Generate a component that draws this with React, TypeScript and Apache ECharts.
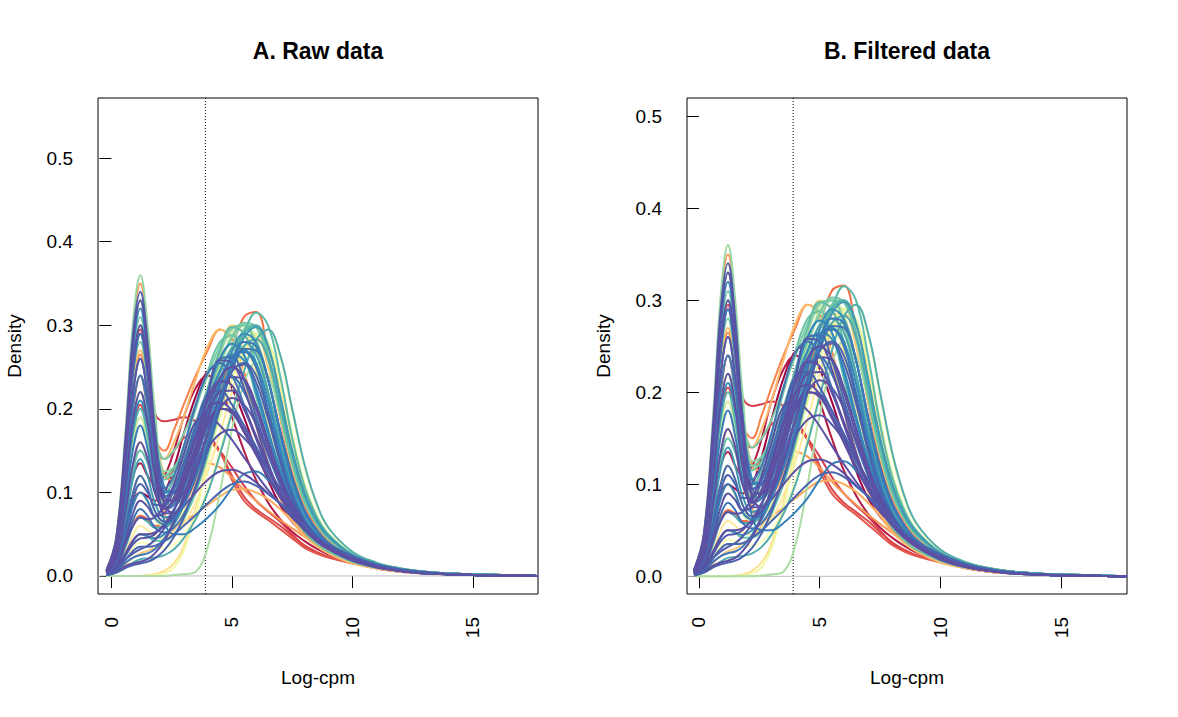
import React, { useEffect, useRef } from "react";
import * as echarts from "echarts";

// log-cpm grid at which each sample's density was read
const logCpm = [-0.2, 0.2, 0.6, 0.9, 1.2, 1.5, 1.8, 2.2, 2.6, 3.0, 3.5, 4.0, 4.5, 5.0, 5.5, 6.0, 6.5, 7.0, 7.5, 8.0, 8.5, 9.0, 10, 11, 12, 13, 14, 15, 17.7];

const xTicks = [0, 5, 10, 15];
const yTicks = [0, 0.1, 0.2, 0.3, 0.4, 0.5];
const cutoff = 3.9;
const panelTitles = ["A. Raw data", "B. Filtered data"];
const xLabel = "Log-cpm";
const yLabel = "Density";

// density curves, one per sample (drawing order)
const s01 = [0.003, 0.02, 0.06, 0.09, 0.1, 0.095, 0.09, 0.1, 0.13, 0.17, 0.215, 0.245, 0.25, 0.225, 0.19, 0.15, 0.115, 0.085, 0.065, 0.05, 0.038, 0.03, 0.018, 0.01, 0.006, 0.003, 0.002, 0.001, 0];
const s02 = [0.004, 0.025, 0.08, 0.12, 0.135, 0.12, 0.11, 0.12, 0.15, 0.19, 0.225, 0.24, 0.225, 0.19, 0.15, 0.115, 0.088, 0.068, 0.053, 0.042, 0.033, 0.026, 0.016, 0.009, 0.005, 0.003, 0.002, 0.001, 0];
const s03 = [0.006, 0.04, 0.15, 0.25, 0.295, 0.25, 0.195, 0.185, 0.187, 0.19, 0.185, 0.17, 0.15, 0.13, 0.108, 0.09, 0.077, 0.065, 0.05, 0.036, 0.028, 0.023, 0.016, 0.01, 0.006, 0.004, 0.002, 0.001, 0];
const s04 = [0.005, 0.03, 0.1, 0.17, 0.205, 0.18, 0.15, 0.14, 0.15, 0.165, 0.17, 0.165, 0.148, 0.12, 0.095, 0.08, 0.07, 0.06, 0.048, 0.037, 0.029, 0.023, 0.016, 0.01, 0.006, 0.004, 0.002, 0.001, 0];
const s05 = [0.005, 0.035, 0.12, 0.2, 0.24, 0.2, 0.15, 0.12, 0.125, 0.14, 0.155, 0.16, 0.148, 0.115, 0.09, 0.077, 0.067, 0.056, 0.045, 0.034, 0.027, 0.022, 0.015, 0.01, 0.006, 0.004, 0.002, 0.001, 0];
const s06 = [0.002, 0.014, 0.04, 0.062, 0.072, 0.068, 0.06, 0.06, 0.068, 0.085, 0.115, 0.16, 0.215, 0.27, 0.31, 0.316, 0.265, 0.19, 0.125, 0.085, 0.06, 0.042, 0.024, 0.014, 0.009, 0.005, 0.003, 0.002, 0];
const s07 = [0.005, 0.035, 0.135, 0.22, 0.265, 0.225, 0.165, 0.15, 0.175, 0.205, 0.24, 0.27, 0.295, 0.285, 0.245, 0.19, 0.135, 0.095, 0.068, 0.05, 0.037, 0.028, 0.016, 0.01, 0.006, 0.004, 0.002, 0.001, 0];
const s08 = [0.007, 0.045, 0.175, 0.295, 0.35, 0.29, 0.18, 0.12, 0.115, 0.12, 0.13, 0.135, 0.13, 0.118, 0.103, 0.09, 0.078, 0.067, 0.057, 0.047, 0.038, 0.03, 0.019, 0.011, 0.006, 0.004, 0.002, 0.001, 0];
const s09 = [0.007, 0.045, 0.165, 0.28, 0.33, 0.27, 0.165, 0.075, 0.06, 0.065, 0.075, 0.085, 0.095, 0.103, 0.104, 0.1, 0.092, 0.08, 0.066, 0.053, 0.042, 0.033, 0.02, 0.012, 0.007, 0.004, 0.002, 0.001, 0];
const s10 = [0.005, 0.035, 0.135, 0.23, 0.27, 0.23, 0.17, 0.14, 0.16, 0.19, 0.235, 0.275, 0.295, 0.28, 0.235, 0.18, 0.13, 0.092, 0.066, 0.048, 0.036, 0.027, 0.015, 0.009, 0.005, 0.003, 0.002, 0.001, 0];
const s11 = [0.001, 0.006, 0.015, 0.022, 0.027, 0.03, 0.034, 0.042, 0.055, 0.075, 0.11, 0.155, 0.205, 0.25, 0.285, 0.285, 0.25, 0.19, 0.13, 0.088, 0.062, 0.044, 0.024, 0.014, 0.008, 0.005, 0.003, 0.002, 0];
const s12 = [0.003, 0.02, 0.075, 0.13, 0.16, 0.14, 0.1, 0.08, 0.09, 0.11, 0.15, 0.2, 0.26, 0.3, 0.29, 0.245, 0.18, 0.125, 0.085, 0.058, 0.042, 0.031, 0.018, 0.011, 0.006, 0.004, 0.002, 0.001, 0];
const s13 = [0, 0, 0, 0, 0, 0.001, 0.002, 0.006, 0.015, 0.035, 0.08, 0.14, 0.2, 0.255, 0.29, 0.298, 0.265, 0.2, 0.14, 0.095, 0.066, 0.047, 0.025, 0.014, 0.008, 0.005, 0.003, 0.002, 0];
const s14 = [0.001, 0.009, 0.03, 0.05, 0.06, 0.055, 0.048, 0.045, 0.05, 0.062, 0.088, 0.125, 0.17, 0.22, 0.265, 0.29, 0.275, 0.225, 0.16, 0.105, 0.07, 0.049, 0.026, 0.015, 0.009, 0.005, 0.003, 0.002, 0];
const s15 = [0.004, 0.03, 0.11, 0.185, 0.22, 0.185, 0.13, 0.1, 0.105, 0.125, 0.16, 0.205, 0.25, 0.278, 0.275, 0.24, 0.185, 0.13, 0.088, 0.06, 0.043, 0.032, 0.018, 0.011, 0.006, 0.004, 0.002, 0.001, 0];
const s16 = [0.001, 0.006, 0.02, 0.033, 0.04, 0.038, 0.034, 0.033, 0.038, 0.05, 0.072, 0.105, 0.15, 0.2, 0.25, 0.285, 0.295, 0.26, 0.195, 0.13, 0.085, 0.056, 0.028, 0.016, 0.009, 0.005, 0.003, 0.002, 0];
const s17 = [0, 0, 0, 0, 0, 0, 0.001, 0.003, 0.01, 0.03, 0.075, 0.135, 0.195, 0.25, 0.285, 0.29, 0.26, 0.2, 0.14, 0.095, 0.065, 0.046, 0.025, 0.014, 0.008, 0.005, 0.003, 0.002, 0];
const s18 = [0.002, 0.015, 0.058, 0.1, 0.12, 0.105, 0.078, 0.062, 0.065, 0.078, 0.105, 0.145, 0.19, 0.235, 0.27, 0.29, 0.28, 0.235, 0.17, 0.112, 0.074, 0.05, 0.026, 0.015, 0.009, 0.005, 0.003, 0.002, 0];
const s19 = [0.004, 0.025, 0.095, 0.16, 0.19, 0.16, 0.115, 0.09, 0.095, 0.115, 0.155, 0.2, 0.25, 0.285, 0.3, 0.285, 0.235, 0.17, 0.115, 0.078, 0.055, 0.04, 0.022, 0.013, 0.007, 0.004, 0.002, 0.001, 0];
const s20 = [0.002, 0.013, 0.05, 0.085, 0.1, 0.088, 0.068, 0.06, 0.07, 0.095, 0.14, 0.19, 0.245, 0.29, 0.3, 0.27, 0.21, 0.15, 0.1, 0.068, 0.048, 0.035, 0.02, 0.012, 0.007, 0.004, 0.002, 0.001, 0];
const s21 = [0, 0, 0, 0, 0, 0, 0, 0, 0.001, 0.002, 0.005, 0.035, 0.1, 0.175, 0.23, 0.255, 0.24, 0.195, 0.14, 0.095, 0.066, 0.046, 0.025, 0.014, 0.008, 0.005, 0.003, 0.002, 0];
const s22 = [0.007, 0.047, 0.18, 0.305, 0.36, 0.3, 0.2, 0.125, 0.13, 0.15, 0.185, 0.225, 0.265, 0.295, 0.3, 0.275, 0.22, 0.155, 0.105, 0.07, 0.05, 0.036, 0.02, 0.012, 0.007, 0.004, 0.002, 0.001, 0];
const s23 = [0.007, 0.043, 0.165, 0.28, 0.33, 0.275, 0.185, 0.12, 0.12, 0.135, 0.165, 0.2, 0.24, 0.275, 0.3, 0.298, 0.26, 0.195, 0.135, 0.09, 0.063, 0.045, 0.024, 0.014, 0.008, 0.005, 0.003, 0.002, 0];
const s24 = [0.006, 0.037, 0.14, 0.24, 0.28, 0.235, 0.17, 0.14, 0.15, 0.17, 0.205, 0.24, 0.275, 0.297, 0.3, 0.275, 0.22, 0.155, 0.105, 0.07, 0.05, 0.036, 0.02, 0.012, 0.007, 0.004, 0.002, 0.001, 0];
const s25 = [0.004, 0.029, 0.11, 0.187, 0.22, 0.19, 0.14, 0.12, 0.13, 0.15, 0.18, 0.215, 0.255, 0.285, 0.303, 0.298, 0.26, 0.195, 0.135, 0.09, 0.063, 0.045, 0.024, 0.014, 0.008, 0.005, 0.003, 0.002, 0];
const s26 = [0.006, 0.04, 0.155, 0.265, 0.31, 0.26, 0.175, 0.115, 0.125, 0.155, 0.2, 0.245, 0.28, 0.288, 0.265, 0.215, 0.16, 0.11, 0.076, 0.053, 0.039, 0.029, 0.017, 0.01, 0.006, 0.003, 0.002, 0.001, 0];
const s27 = [0.001, 0.007, 0.025, 0.042, 0.05, 0.047, 0.042, 0.042, 0.05, 0.068, 0.1, 0.145, 0.2, 0.255, 0.295, 0.3, 0.265, 0.2, 0.138, 0.092, 0.064, 0.045, 0.024, 0.014, 0.008, 0.005, 0.003, 0.002, 0];
const s28 = [0.003, 0.02, 0.075, 0.127, 0.15, 0.135, 0.11, 0.1, 0.115, 0.14, 0.18, 0.225, 0.27, 0.298, 0.29, 0.255, 0.195, 0.135, 0.09, 0.062, 0.045, 0.033, 0.019, 0.011, 0.006, 0.004, 0.002, 0.001, 0];
const s29 = [0.005, 0.03, 0.12, 0.205, 0.24, 0.2, 0.135, 0.09, 0.085, 0.095, 0.12, 0.16, 0.205, 0.25, 0.29, 0.315, 0.3, 0.24, 0.165, 0.108, 0.072, 0.05, 0.026, 0.015, 0.009, 0.005, 0.003, 0.002, 0];
const s30 = [0.004, 0.026, 0.1, 0.17, 0.2, 0.168, 0.115, 0.085, 0.088, 0.1, 0.13, 0.17, 0.215, 0.258, 0.29, 0.3, 0.275, 0.215, 0.15, 0.1, 0.068, 0.048, 0.025, 0.014, 0.008, 0.005, 0.003, 0.002, 0];
const s31 = [0.001, 0.004, 0.01, 0.016, 0.02, 0.021, 0.022, 0.025, 0.032, 0.045, 0.068, 0.1, 0.145, 0.195, 0.245, 0.282, 0.295, 0.265, 0.2, 0.135, 0.088, 0.058, 0.029, 0.016, 0.009, 0.005, 0.003, 0.002, 0];
const s32 = [0.002, 0.01, 0.036, 0.06, 0.07, 0.065, 0.058, 0.058, 0.068, 0.088, 0.12, 0.16, 0.205, 0.245, 0.275, 0.283, 0.26, 0.205, 0.145, 0.097, 0.066, 0.047, 0.025, 0.014, 0.008, 0.005, 0.003, 0.002, 0];
const s33 = [0.006, 0.04, 0.15, 0.255, 0.3, 0.25, 0.165, 0.1, 0.1, 0.12, 0.16, 0.205, 0.245, 0.272, 0.28, 0.265, 0.22, 0.16, 0.108, 0.072, 0.051, 0.037, 0.021, 0.012, 0.007, 0.004, 0.002, 0.001, 0];
const s34 = [0.003, 0.018, 0.068, 0.117, 0.14, 0.12, 0.088, 0.07, 0.075, 0.09, 0.12, 0.16, 0.205, 0.25, 0.285, 0.298, 0.275, 0.215, 0.15, 0.1, 0.068, 0.048, 0.025, 0.014, 0.008, 0.005, 0.003, 0.002, 0];
const s35 = [0.001, 0.007, 0.025, 0.042, 0.05, 0.048, 0.045, 0.05, 0.062, 0.085, 0.125, 0.175, 0.225, 0.268, 0.29, 0.28, 0.235, 0.17, 0.115, 0.077, 0.054, 0.039, 0.021, 0.012, 0.007, 0.004, 0.002, 0.001, 0];
const s36 = [0.004, 0.028, 0.105, 0.178, 0.21, 0.18, 0.125, 0.095, 0.105, 0.13, 0.17, 0.21, 0.245, 0.265, 0.258, 0.225, 0.175, 0.128, 0.092, 0.066, 0.048, 0.036, 0.021, 0.012, 0.007, 0.004, 0.002, 0.001, 0];
const s37 = [0.006, 0.038, 0.145, 0.245, 0.29, 0.24, 0.16, 0.1, 0.105, 0.13, 0.175, 0.22, 0.26, 0.278, 0.265, 0.22, 0.17, 0.125, 0.09, 0.065, 0.048, 0.036, 0.02, 0.011, 0.006, 0.003, 0.002, 0.001, 0];
const s38 = [0.007, 0.042, 0.16, 0.272, 0.32, 0.265, 0.175, 0.105, 0.1, 0.115, 0.15, 0.195, 0.235, 0.262, 0.27, 0.255, 0.21, 0.152, 0.103, 0.069, 0.049, 0.035, 0.02, 0.012, 0.007, 0.004, 0.002, 0.001, 0];
const s39 = [0.005, 0.034, 0.13, 0.22, 0.26, 0.215, 0.135, 0.065, 0.05, 0.05, 0.058, 0.07, 0.085, 0.105, 0.122, 0.125, 0.115, 0.098, 0.08, 0.063, 0.049, 0.038, 0.023, 0.013, 0.007, 0.004, 0.002, 0.001, 0];
const s40 = [0.004, 0.024, 0.09, 0.152, 0.18, 0.152, 0.105, 0.08, 0.085, 0.105, 0.14, 0.185, 0.23, 0.26, 0.268, 0.25, 0.2, 0.145, 0.098, 0.067, 0.048, 0.035, 0.02, 0.012, 0.007, 0.004, 0.002, 0.001, 0];
const s41 = [0.002, 0.011, 0.04, 0.067, 0.08, 0.072, 0.058, 0.052, 0.058, 0.074, 0.105, 0.15, 0.2, 0.245, 0.272, 0.27, 0.235, 0.175, 0.12, 0.08, 0.056, 0.04, 0.022, 0.013, 0.007, 0.004, 0.002, 0.001, 0];
const s42 = [0.001, 0.006, 0.016, 0.022, 0.025, 0.027, 0.032, 0.045, 0.065, 0.092, 0.135, 0.185, 0.228, 0.238, 0.22, 0.185, 0.145, 0.11, 0.082, 0.062, 0.047, 0.036, 0.021, 0.012, 0.007, 0.004, 0.002, 0.001, 0];
const s43 = [0.006, 0.038, 0.145, 0.245, 0.29, 0.24, 0.155, 0.095, 0.1, 0.125, 0.17, 0.22, 0.26, 0.262, 0.235, 0.192, 0.148, 0.11, 0.08, 0.058, 0.043, 0.032, 0.018, 0.01, 0.006, 0.003, 0.002, 0.001, 0];
const s44 = [0.002, 0.016, 0.06, 0.1, 0.12, 0.105, 0.078, 0.065, 0.072, 0.09, 0.125, 0.17, 0.215, 0.245, 0.255, 0.24, 0.195, 0.14, 0.095, 0.065, 0.047, 0.034, 0.019, 0.011, 0.006, 0.004, 0.002, 0.001, 0];
const s45 = [0.002, 0.015, 0.055, 0.092, 0.11, 0.1, 0.085, 0.085, 0.105, 0.135, 0.18, 0.218, 0.222, 0.205, 0.18, 0.152, 0.125, 0.1, 0.078, 0.06, 0.046, 0.036, 0.021, 0.012, 0.007, 0.004, 0.002, 0.001, 0];
const s46 = [0.007, 0.045, 0.17, 0.29, 0.34, 0.28, 0.175, 0.095, 0.09, 0.11, 0.145, 0.18, 0.2, 0.198, 0.18, 0.155, 0.128, 0.1, 0.076, 0.057, 0.043, 0.033, 0.019, 0.011, 0.006, 0.003, 0.002, 0.001, 0];
const s47 = [0.001, 0.008, 0.02, 0.027, 0.032, 0.036, 0.043, 0.057, 0.078, 0.108, 0.155, 0.215, 0.258, 0.255, 0.225, 0.18, 0.135, 0.1, 0.074, 0.056, 0.043, 0.034, 0.02, 0.012, 0.007, 0.004, 0.002, 0.001, 0];
const s48 = [0.001, 0.004, 0.01, 0.013, 0.015, 0.017, 0.021, 0.031, 0.047, 0.07, 0.108, 0.155, 0.205, 0.245, 0.253, 0.232, 0.188, 0.137, 0.095, 0.066, 0.048, 0.035, 0.02, 0.012, 0.007, 0.004, 0.002, 0.001, 0];
const s49 = [0.007, 0.044, 0.165, 0.28, 0.33, 0.27, 0.165, 0.085, 0.075, 0.09, 0.125, 0.17, 0.212, 0.238, 0.235, 0.205, 0.162, 0.12, 0.087, 0.063, 0.046, 0.034, 0.019, 0.011, 0.006, 0.004, 0.002, 0.001, 0];
const s50 = [0.001, 0.009, 0.028, 0.043, 0.05, 0.05, 0.052, 0.06, 0.07, 0.083, 0.1, 0.115, 0.125, 0.127, 0.122, 0.112, 0.099, 0.087, 0.073, 0.059, 0.047, 0.037, 0.023, 0.013, 0.007, 0.004, 0.002, 0.001, 0];
const s51 = [0.001, 0.008, 0.025, 0.038, 0.045, 0.046, 0.05, 0.062, 0.08, 0.1, 0.128, 0.153, 0.17, 0.175, 0.165, 0.148, 0.127, 0.105, 0.082, 0.063, 0.048, 0.037, 0.023, 0.013, 0.007, 0.004, 0.002, 0.001, 0];
const s52 = [0.005, 0.034, 0.13, 0.22, 0.26, 0.215, 0.135, 0.075, 0.075, 0.095, 0.13, 0.17, 0.2, 0.213, 0.205, 0.182, 0.148, 0.113, 0.083, 0.06, 0.044, 0.033, 0.019, 0.011, 0.006, 0.004, 0.002, 0.001, 0];
const s53 = [0.001, 0.005, 0.012, 0.015, 0.017, 0.02, 0.027, 0.042, 0.065, 0.095, 0.14, 0.183, 0.2, 0.195, 0.172, 0.145, 0.118, 0.094, 0.073, 0.056, 0.044, 0.035, 0.021, 0.012, 0.007, 0.004, 0.002, 0.001, 0];
const s54 = [0.005, 0.032, 0.12, 0.205, 0.24, 0.205, 0.14, 0.105, 0.12, 0.155, 0.205, 0.243, 0.255, 0.24, 0.205, 0.165, 0.128, 0.097, 0.073, 0.055, 0.042, 0.033, 0.019, 0.011, 0.006, 0.003, 0.002, 0.001, 0];
const s55 = [0.006, 0.04, 0.15, 0.255, 0.3, 0.248, 0.158, 0.09, 0.09, 0.11, 0.15, 0.19, 0.22, 0.222, 0.2, 0.168, 0.132, 0.1, 0.075, 0.056, 0.042, 0.032, 0.019, 0.011, 0.006, 0.004, 0.002, 0.001, 0];
const s56 = [0.002, 0.012, 0.04, 0.06, 0.07, 0.068, 0.07, 0.085, 0.11, 0.145, 0.185, 0.19, 0.18, 0.163, 0.142, 0.122, 0.103, 0.086, 0.07, 0.056, 0.044, 0.035, 0.021, 0.012, 0.007, 0.004, 0.002, 0.001, 0];
const s57 = [0.002, 0.013, 0.05, 0.085, 0.1, 0.09, 0.07, 0.062, 0.068, 0.085, 0.118, 0.16, 0.21, 0.255, 0.28, 0.275, 0.235, 0.172, 0.115, 0.077, 0.054, 0.039, 0.021, 0.012, 0.007, 0.004, 0.002, 0.001, 0];
const s58 = [0.002, 0.012, 0.045, 0.075, 0.09, 0.083, 0.072, 0.075, 0.095, 0.125, 0.168, 0.2, 0.208, 0.198, 0.175, 0.148, 0.12, 0.095, 0.074, 0.057, 0.044, 0.035, 0.021, 0.012, 0.007, 0.004, 0.002, 0.001, 0];
const s59 = [0.003, 0.021, 0.08, 0.135, 0.16, 0.14, 0.1, 0.082, 0.09, 0.115, 0.155, 0.2, 0.237, 0.25, 0.237, 0.2, 0.155, 0.115, 0.083, 0.06, 0.045, 0.034, 0.019, 0.011, 0.006, 0.004, 0.002, 0.001, 0];
const s60 = [0.001, 0.006, 0.02, 0.03, 0.035, 0.035, 0.036, 0.042, 0.05, 0.06, 0.073, 0.087, 0.1, 0.11, 0.113, 0.108, 0.098, 0.087, 0.074, 0.06, 0.048, 0.038, 0.024, 0.014, 0.008, 0.004, 0.002, 0.001, 0];
const s61 = [0.004, 0.029, 0.11, 0.187, 0.22, 0.185, 0.12, 0.08, 0.09, 0.12, 0.165, 0.21, 0.233, 0.228, 0.2, 0.165, 0.13, 0.1, 0.075, 0.057, 0.044, 0.034, 0.02, 0.011, 0.006, 0.003, 0.002, 0.001, 0];

const samples = [s01, s02, s03, s04, s05, s06, s07, s08, s09, s10, s11, s12, s13, s14, s15, s16, s17, s18, s19, s20, s21, s22, s23, s24, s25, s26, s27, s28, s29, s30, s31, s32, s33, s34, s35, s36, s37, s38, s39, s40, s41, s42, s43, s44, s45, s46, s47, s48, s49, s50, s51, s52, s53, s54, s55, s56, s57, s58, s59, s60, s61];

// Spectral-ramp colours, one per sample
const sampleColors = [
  "#9E0142", "#B41947", "#D53E4F", "#DC494C", "#E4554A", "#F46D43", "#F7834D", "#FA9856", "#FDAE61", "#FDBB6C",
  "#FDC877", "#FED583", "#FEE08B", "#FEEA9B", "#FFF5AE", "#FBFDBA", "#F0F9A8", "#E6F598", "#D1ED9C", "#BEE5A0",
  "#ABDDA4", "#98D5A4", "#88CFA4", "#7CCBA4", "#74C8A5", "#6EC5A5", "#69C3A5", "#62BDA7", "#5EBAA8", "#58B3AA",
  "#53ADAC", "#4FA8AE", "#4AA3B0", "#4199B3", "#3A8FB7", "#368BBA", "#3288BD", "#3586BC", "#3581BA", "#3A7AB7",
  "#3F73B4", "#3F76B5", "#446CB1", "#4965AE", "#4A64AD", "#4E5EAB", "#5357A8", "#4C61AC", "#5850A5", "#5E4FA2",
  "#5555A7", "#5B53A4", "#5E4FA2", "#4472B3", "#5E4FA2", "#5850A5", "#3A7AB7", "#5A52A4", "#5E4FA2", "#4965AE",
  "#5E4FA2",
];

const FONT = '"Liberation Sans", Arial, Helvetica, sans-serif';

const panels = [
  { left: 98, xMin: -0.556, xMax: 17.7, yMin: -0.0216, yMax: 0.572 },
  { left: 687, xMin: -0.497, xMax: 17.73, yMin: -0.0192, yMax: 0.5196 },
];
const gridTop = 98;
const gridW = 440;
const gridH = 496;

function buildOption() {
  const grid = panels.map((p) => ({
    left: p.left, top: gridTop, width: gridW, height: gridH,
    show: true, borderColor: "#000", borderWidth: 1, backgroundColor: "transparent",
  }));
  const xAxis = panels.map((p, i) => ({
    type: "value", gridIndex: i, min: p.xMin, max: p.xMax,
    axisLine: { show: false }, splitLine: { show: false },
    axisTick: { show: true, length: 12, lineStyle: { color: "#000", width: 1 }, customValues: xTicks },
    axisLabel: { customValues: xTicks, rotate: 90, margin: 23, color: "#000", fontSize: 19, fontFamily: FONT },
  }));
  const yAxis = panels.map((p, i) => ({
    type: "value", gridIndex: i, min: p.yMin, max: p.yMax,
    axisLine: { show: false }, splitLine: { show: false },
    axisTick: { show: true, length: 12, lineStyle: { color: "#000", width: 1 }, customValues: yTicks },
    axisLabel: { customValues: yTicks, margin: 25, color: "#000", fontSize: 19, fontFamily: FONT, formatter: (v: number) => v.toFixed(1) },
  }));
  const series: any[] = [];
  panels.forEach((p, i) => {
    series.push({
      type: "line", xAxisIndex: i, yAxisIndex: i, silent: true, symbol: "none", z: 1,
      data: [[p.xMin, 0], [p.xMax, 0]],
      lineStyle: { color: "#BEBEBE", width: 1 },
    });
    series.push({
      type: "line", xAxisIndex: i, yAxisIndex: i, silent: true, symbol: "none", z: 1,
      data: [[cutoff, p.yMin], [cutoff, p.yMax]],
      lineStyle: { color: "#000", width: 1, type: [1, 2] },
    });
    samples.forEach((s, k) => {
      series.push({
        type: "line", xAxisIndex: i, yAxisIndex: i, silent: true, symbol: "none", showSymbol: false,
        smooth: 0.4, z: 2,
        data: logCpm.map((x, j) => [x, s[j]]),
        lineStyle: { color: sampleColors[k], width: 2 },
        emphasis: { disabled: true },
      });
    });
  });
  const graphic: any[] = [];
  panels.forEach((p, i) => {
    const cx = p.left + gridW / 2;
    graphic.push({
      type: "text", x: cx, y: 50.5, silent: true,
      style: { text: panelTitles[i], fill: "#000", fontSize: 23, fontWeight: "bold", fontFamily: FONT, align: "center", verticalAlign: "middle" },
    });
    graphic.push({
      type: "text", x: cx, y: 677, silent: true,
      style: { text: xLabel, fill: "#000", fontSize: 19, fontFamily: FONT, align: "center", verticalAlign: "middle" },
    });
    graphic.push({
      type: "text", x: p.left - 83.5, y: gridTop + gridH / 2, rotation: Math.PI / 2, silent: true,
      style: { text: yLabel, fill: "#000", fontSize: 19, fontFamily: FONT, align: "center", verticalAlign: "middle" },
    });
  });
  return {
    animation: false,
    backgroundColor: "#fff",
    grid, xAxis, yAxis, series, graphic,
  };
}

export default function App() {
  const ref = useRef<HTMLDivElement>(null);
  useEffect(() => {
    if (!ref.current) return;
    const chart = echarts.init(ref.current, undefined, { renderer: "svg" });
    chart.setOption(buildOption() as any);
    return () => chart.dispose();
  }, []);
  return (
    <div
      ref={ref}
      style={{ position: "absolute", left: 0, top: 0, width: 1178, height: 717, background: "#fff" }}
    />
  );
}
